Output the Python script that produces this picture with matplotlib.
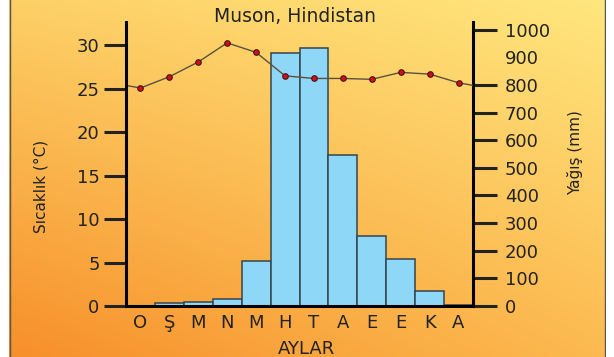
import numpy as np
import matplotlib
matplotlib.use('Agg')
import matplotlib.pyplot as plt
from matplotlib.colors import to_rgb


months = ['O', 'Ş', 'M', 'N', 'M', 'H', 'T', 'A', 'E', 'E', 'K', 'A']
temp_c = [25.1, 26.4, 28.1, 30.3, 29.2, 26.5, 26.2, 26.2, 26.1, 26.9, 26.7, 25.7]
rain_mm = [0, 12, 15, 26, 163, 917, 935, 548, 253, 169, 56, 5]
temp_ticks = [0, 5, 10, 15, 20, 25, 30]
rain_ticks = [0, 100, 200, 300, 400, 500, 600, 700, 800, 900, 1000]

W, H = 614, 357
fig = plt.figure(figsize=(W / 100, H / 100), dpi=100)
fig.patch.set_facecolor('white')

# background gradient (yellow top-right -> orange bottom-left)
bg = fig.add_axes([9 / W, 0, (606 - 9) / W, 1])
tl, tr = np.array(to_rgb('#FDD066')), np.array(to_rgb('#FFE67E'))
bl, br = np.array(to_rgb('#F78F2A')), np.array(to_rgb('#FCBA50'))
u = np.linspace(0, 1, 200)[None, :, None]
v = np.linspace(0, 1, 120)[:, None, None]
grad = (1 - v) * ((1 - u) * tl + u * tr) + v * ((1 - u) * bl + u * br)
bg.imshow(grad, aspect='auto', extent=[0, 1, 0, 1])
bg.set_xlim(0, 1)
bg.set_ylim(0, 1)
bg.axis('off')
bg.axvline(0.001, color='#555555', lw=1)
bg.axvline(0.999, color='#555555', lw=1)

# main axes: temperature on the left, rain (bars) on the right
ax = fig.add_axes([126 / W, 51 / H, (473 - 126) / W, 284 / H])
ax2 = ax.twinx()
ax.set_zorder(ax2.get_zorder() + 1)
ax.patch.set_visible(False)
ax2.patch.set_visible(False)

x = np.arange(len(months))
ax2.bar(x, rain_mm, width=1.0, color='#8ED7F7', edgecolor='#34444E', linewidth=1.1)

# close the line on both edges (december -> january)
edge_t = (temp_c[0] + temp_c[-1]) / 2
xl = np.concatenate([[-0.5], x, [len(months) - 0.5]])
yl = np.concatenate([[edge_t], temp_c, [edge_t]])
ax.plot(xl, yl, color='#5A5040', lw=1.0)
ax.plot(x, temp_c, 'o', color='#D01020', markeredgecolor='#4A1010', markersize=4, mew=0.8)

ax.set_xlim(-0.5, len(months) - 0.5)
ax.set_ylim(0, 32.7)
ax2.set_ylim(0, 1028)

for s in ['top', 'right']:
    ax.spines[s].set_visible(False)
for s in ['top', 'left', 'bottom']:
    ax2.spines[s].set_visible(False)
ax.spines['left'].set_linewidth(2.2)
ax.spines['bottom'].set_linewidth(2.2)
ax2.spines['right'].set_linewidth(2.2)

ax.set_yticks(temp_ticks)
ax.tick_params(axis='y', length=16, width=2.2, pad=3, labelsize=13, colors='#222222')
ax2.set_yticks(rain_ticks)
ax2.tick_params(axis='y', length=17, width=2.2, pad=6, labelsize=13, colors='#222222')
ax2.yaxis.get_major_ticks()[9].tick2line.set_visible(False)

ax.set_xticks(x)
ax.set_xticklabels(months)
ax.tick_params(axis='x', length=0, pad=6, labelsize=13, colors='#222222')

ax.set_xlabel('AYLAR', fontsize=13, color='#222222')
ax.xaxis.set_label_coords(0.52, -0.12)
ax.set_ylabel('Sıcaklık (°C)', fontsize=11, color='#222222')
ax.yaxis.set_label_coords(-0.222, 0.42)
ax2.set_ylabel('Yağış (mm)', fontsize=11, color='#222222')
ax2.yaxis.set_label_coords(1.272, 0.54)

fig.text(295 / W, 1 - 17 / H, 'Muson, Hindistan', ha='center', va='center',
         fontsize=13.5, color='#222222')

fig.savefig('out.png', dpi=100, facecolor=fig.get_facecolor())
